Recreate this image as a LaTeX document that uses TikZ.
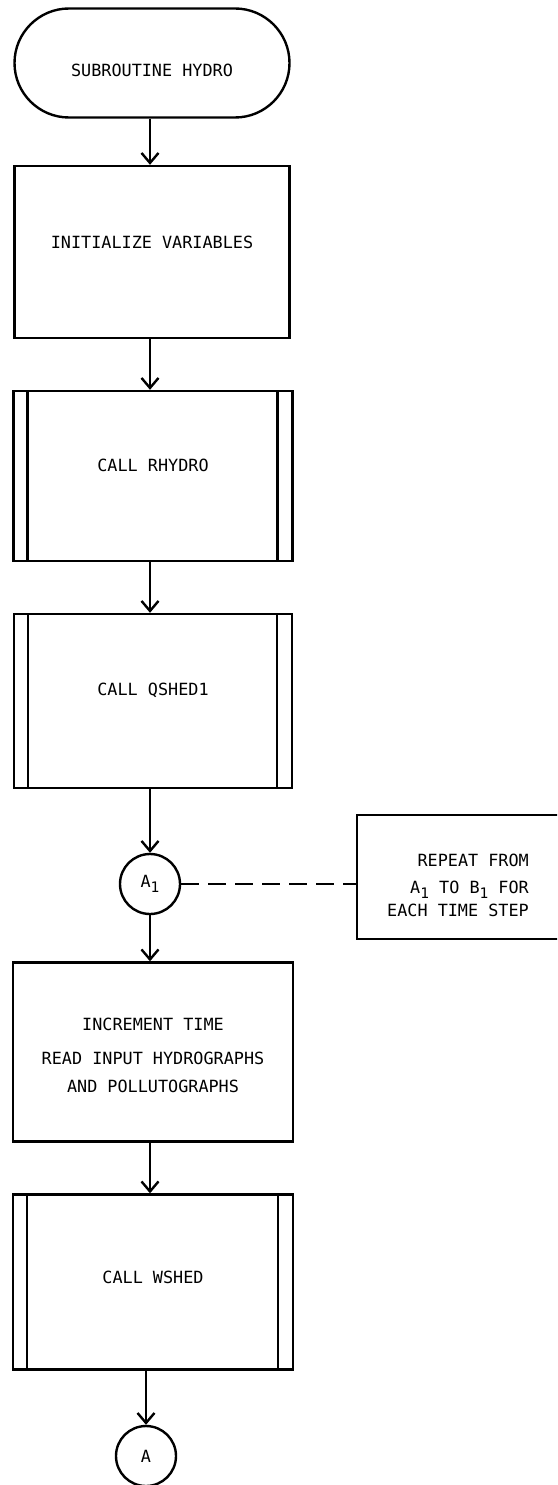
\documentclass[tikz,border=0pt]{standalone}
\usepackage{fontspec}
\setmonofont{DejaVu Sans Mono}
\usetikzlibrary{arrows.meta,shapes.misc}
\newcommand{\lowidx}[1]{\raisebox{-5pt}{\fontsize{14.5}{14.5}\selectfont #1}}
\newcommand{\shiftup}[2]{\raisebox{#1}[\height][\depth]{#2}}
\begin{document}
\begin{tikzpicture}[x=1pt,y=-1pt,line width=2.4pt,
  font=\fontsize{16.8}{20}\selectfont\ttfamily,
  term/.style={draw, rounded rectangle, inner sep=0pt},
  box/.style={draw, rectangle, inner sep=0pt},
  predef/.style={box, path picture={
    \draw[line width=2.4pt] ([xshift=14pt]path picture bounding box.north west) -- ([xshift=14pt]path picture bounding box.south west);
    \draw[line width=2.4pt] ([xshift=-15pt]path picture bounding box.north east) -- ([xshift=-15pt]path picture bounding box.south east);}},
  flow/.style={-{Straight Barb[length=10pt,width=17pt]}},
  conn/.style={draw, circle, inner sep=0pt, minimum size=60pt},
  note/.style={draw, rectangle, inner sep=0pt},
  link/.style={dash pattern=on 18pt off 9pt}]
\clip (0,0) rectangle (557,1485);
\node[term, minimum width=275pt, minimum height=109pt] (start) at (152,63) {\shiftup{-7pt}{SUBROUTINE HYDRO}};
\node[box, minimum width=275pt, minimum height=172pt] (init) at (152,252) {\shiftup{10pt}{INITIALIZE VARIABLES}};
\node[predef, minimum width=279pt, minimum height=170pt] (rhydro) at (153,476) {\shiftup{11pt}{CALL RHYDRO}};
\node[predef, minimum width=278pt, minimum height=174pt] (qshed) at (153,701) {\shiftup{11pt}{CALL QSHED1}};
\node[conn] (a1) at (150,884) {A\lowidx{1}};
\node[note, minimum width=202pt, minimum height=124pt] (rep) at (458,877)
  {\shiftup{-10pt}{\begin{tabular}{@{}r@{}}REPEAT FROM\\[7pt] A\lowidx{1} TO B\lowidx{1} FOR\\[3pt] EACH TIME STEP\end{tabular}}};
\node[box, minimum width=280pt, minimum height=179pt] (incr) at (153,1052) {\shiftup{-5pt}{\begin{tabular}{@{}c@{}}INCREMENT TIME\\[14pt] READ INPUT HYDROGRAPHS\\[8pt] AND POLLUTOGRAPHS\end{tabular}}};
\node[predef, minimum width=280pt, minimum height=175pt] (wshed) at (153,1282) {\shiftup{5pt}{CALL WSHED}};
\node[conn] (a) at (146,1456) {A};
\draw[flow] (start.south -| 150,0) -- (init.north -| 150,0);
\draw[flow] (init.south -| 150,0) -- (rhydro.north -| 150,0);
\draw[flow] (rhydro.south -| 150,0) -- (qshed.north -| 150,0);
\draw[flow] (qshed.south -| a1) -- (a1.north);
\draw[flow] (a1.south) -- (incr.north -| a1);
\draw[flow] (incr.south -| 150,0) -- (wshed.north -| 150,0);
\draw[flow] (wshed.south -| a) -- (a.north);
\draw[link] (a1.east) -- (a1.east -| rep.west);
\end{tikzpicture}
\end{document}
